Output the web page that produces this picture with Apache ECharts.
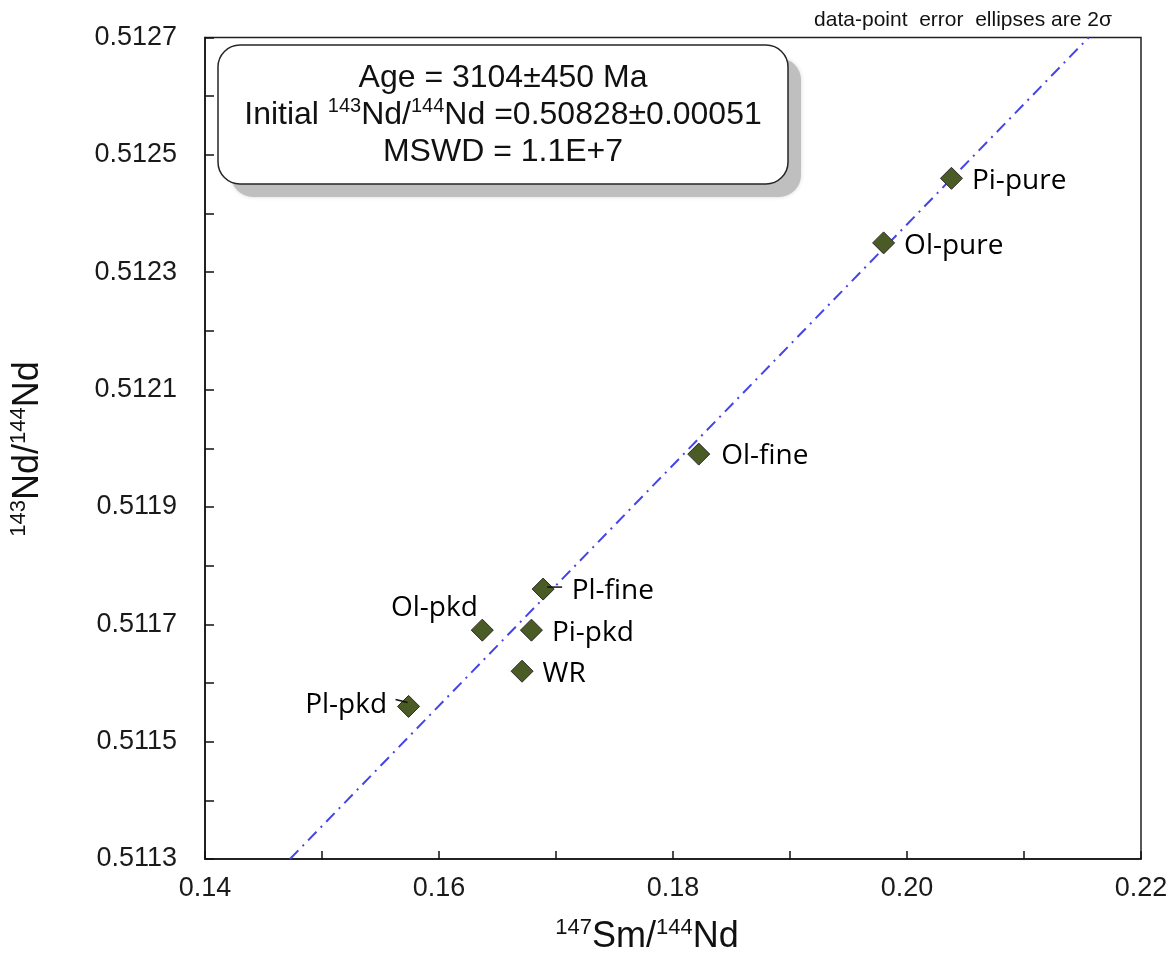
<!DOCTYPE html>
<html>
<head>
<meta charset="utf-8">
<script src="https://cdn.jsdelivr.net/npm/echarts@6/dist/echarts.min.js"></script>
<style>
  html, body { margin: 0; padding: 0; background: #ffffff; }
  #chart { width: 1176px; height: 955px; }
</style>
</head>
<body>
<div id="chart"></div>
<script>
// Sm–Nd isochron samples
const sampleNames = ['Pi-pure', 'Ol-pure', 'Ol-fine', 'Pl-fine', 'Ol-pkd', 'Pi-pkd', 'WR', 'Pl-pkd'];
const smNdRatio  = [0.2038, 0.1980, 0.1822, 0.1689, 0.1637, 0.1679, 0.1671, 0.1574];   // 147Sm/144Nd
const ndNdRatio  = [0.51246, 0.51235, 0.51199, 0.51176, 0.51169, 0.51169, 0.51162, 0.51156]; // 143Nd/144Nd

// Axis tick labels
const xTickLabels = ['0.14', '0.16', '0.18', '0.20', '0.22'];
const yTickLabels = ['0.5113', '0.5115', '0.5117', '0.5119', '0.5121', '0.5123', '0.5125', '0.5127'];

// Isochron result
const ageMa = 3104;
const ageErrMa = 450;
const initialRatio = 0.50828;
const initialErr = 0.00051;
const mswdText = '1.1E+7';
const lambda147Sm = 6.54e-12; // decay constant, 1/yr

const X_MIN = 0.14, X_MAX = 0.22, Y_MIN = 0.5113, Y_MAX = 0.5127;

// Isochron line: 143Nd/144Nd = initial + (e^(λt) − 1) · 147Sm/144Nd, clipped to the plot range
const slope = Math.expm1(lambda147Sm * ageMa * 1e6);
const isochron = [
  [(Y_MIN - initialRatio) / slope, Y_MIN],
  [(Y_MAX - initialRatio) / slope, Y_MAX]
];

const ARIAL = "'Liberation Sans', Arial, sans-serif";
const LABEL_FONT = "'Open Sans', 'Noto Sans', sans-serif";

// Where each sample name sits around its marker; leader = short tick from label to marker (px offsets)
const labelPlacement = {
  'Ol-fine': { position: 'right', distance: 11, offset: [0, 2] },
  'Pl-fine': { position: 'right', distance: 17, offset: [0, 2], leader: [[4, -2], [19, -2]] },
  'Ol-pkd':  { position: 'left', distance: 5, offset: [12, -22] },
  'Pl-pkd':  { position: 'left', distance: 10, offset: [0, -1], leader: [[-13, -7], [-1, -4]] }
};
const defaultPlacement = { position: 'right', distance: 9, offset: [0, 3] };

const points = sampleNames.map((name, i) => {
  const p = labelPlacement[name] || defaultPlacement;
  return {
    name: name,
    value: [smNdRatio[i], ndNdRatio[i]],
    label: { position: p.position, distance: p.distance, offset: p.offset }
  };
});

const chart = echarts.init(document.getElementById('chart'), null, { renderer: 'canvas' });

const baseGraphics = [
  // results box with drop shadow
  {
    type: 'rect', z: 10,
    shape: { x: 231, y: 58, width: 570, height: 139, r: 22 },
    style: { fill: '#bfbfbf', shadowBlur: 4, shadowColor: 'rgba(0,0,0,0.15)' }
  },
  {
    type: 'rect', z: 11,
    shape: { x: 218, y: 45, width: 570, height: 139, r: 22 },
    style: { fill: '#ffffff', stroke: '#262626', lineWidth: 1.5 }
  },
  {
    type: 'text', z: 12,
    x: 503, y: 115,
    style: {
      text: '{m|Age = ' + ageMa + '±' + ageErrMa + ' Ma}\n' +
            '{m|Initial }{s|143}{m|Nd/}{s|144}{m|Nd =' + initialRatio.toFixed(5) + '±' + initialErr.toFixed(5) + '}\n' +
            '{m|MSWD = ' + mswdText + '}',
      align: 'center',
      verticalAlign: 'middle',
      rich: {
        m: { fontFamily: ARIAL, fontSize: 32, lineHeight: 37, fill: '#111' },
        s: { fontFamily: ARIAL, fontSize: 20, lineHeight: 24, verticalAlign: 'top', fill: '#111' }
      }
    }
  },
  // note above the plot
  {
    type: 'text', z: 12,
    x: 963, y: 20,
    style: {
      text: 'data-point  error  ellipses are 2σ',
      fontFamily: ARIAL, fontSize: 21, fill: '#111',
      align: 'center', verticalAlign: 'middle'
    }
  },
  // x-axis title
  {
    type: 'text', z: 12,
    x: 647, y: 937,
    style: {
      text: '{s|147}{m|Sm/}{s|144}{m|Nd}',
      align: 'center', verticalAlign: 'middle',
      rich: {
        m: { fontFamily: ARIAL, fontSize: 36, lineHeight: 40, fill: '#111' },
        s: { fontFamily: ARIAL, fontSize: 22, lineHeight: 28, verticalAlign: 'top', fill: '#111' }
      }
    }
  },
  // y-axis title
  {
    type: 'text', z: 12,
    x: 28, y: 449,
    rotation: Math.PI / 2,
    style: {
      text: '{s|143}{m|Nd/}{s|144}{m|Nd}',
      align: 'center', verticalAlign: 'middle',
      rich: {
        m: { fontFamily: ARIAL, fontSize: 36, lineHeight: 40, fill: '#111' },
        s: { fontFamily: ARIAL, fontSize: 22, lineHeight: 28, verticalAlign: 'top', fill: '#111' }
      }
    }
  }
];

chart.setOption({
  backgroundColor: '#ffffff',
  animation: false,
  grid: {
    left: 205, right: 35, top: 37.5, bottom: 96,
    containLabel: false,
    outerBoundsMode: 'none',
    show: true,
    borderColor: '#222',
    borderWidth: 1.5,
    backgroundColor: 'transparent'
  },
  xAxis: {
    type: 'value',
    min: X_MIN, max: X_MAX, interval: 0.01,
    axisLine: { show: true, onZero: false, lineStyle: { color: '#111', width: 1.5 } },
    axisTick: { show: true, inside: true, length: 8, lineStyle: { color: '#111', width: 1.5 } },
    splitLine: { show: false },
    axisLabel: {
      margin: 16,
      fontFamily: ARIAL, fontSize: 27, color: '#1a1a1a',
      showMinLabel: true, showMaxLabel: true,
      formatter: v => { const s = v.toFixed(2); return xTickLabels.includes(s) ? s : ''; }
    }
  },
  yAxis: {
    type: 'value',
    min: Y_MIN, max: Y_MAX, interval: 0.0001,
    axisLine: { show: true, onZero: false, lineStyle: { color: '#111', width: 1.5 } },
    axisTick: { show: true, inside: true, length: 9, lineStyle: { color: '#111', width: 1.5 } },
    splitLine: { show: false },
    axisLabel: {
      margin: 28,
      fontFamily: ARIAL, fontSize: 27, color: '#1a1a1a',
      showMinLabel: true, showMaxLabel: true,
      formatter: v => { const s = v.toFixed(4); return yTickLabels.includes(s) ? s : ''; }
    }
  },
  series: [
    {
      name: 'isochron',
      type: 'line',
      data: isochron,
      symbol: 'none',
      silent: true,
      z: 2,
      lineStyle: { color: '#4444e8', width: 2, type: [12, 6, 2, 6] }
    },
    {
      name: 'samples',
      type: 'scatter',
      data: points,
      symbol: 'diamond',
      symbolSize: 22,
      z: 3,
      itemStyle: { color: '#4b5b26', borderColor: '#2a2a2a', borderWidth: 1, opacity: 1 },
      label: {
        show: true,
        formatter: '{b}',
        fontFamily: LABEL_FONT,
        fontSize: 28,
        color: '#000000',
        opacity: 1
      }
    }
  ],
  graphic: baseGraphics
});

// Short leader ticks joining two labels to their markers
const leaders = [];
sampleNames.forEach((name, i) => {
  const p = labelPlacement[name];
  if (!p || !p.leader) return;
  const c = chart.convertToPixel({ gridIndex: 0 }, [smNdRatio[i], ndNdRatio[i]]);
  leaders.push({
    type: 'line', z: 5,
    shape: {
      x1: c[0] + p.leader[0][0], y1: c[1] + p.leader[0][1],
      x2: c[0] + p.leader[1][0], y2: c[1] + p.leader[1][1]
    },
    style: { stroke: '#111', lineWidth: 1.5 }
  });
});
chart.setOption({ graphic: baseGraphics.concat(leaders) });
</script>
</body>
</html>
